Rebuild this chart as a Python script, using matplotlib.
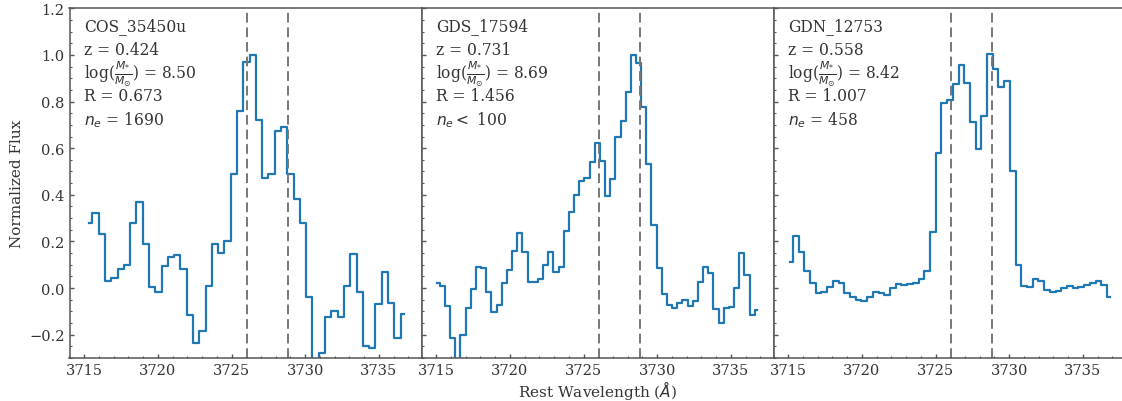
import numpy as np
import matplotlib
matplotlib.use("Agg")
import matplotlib.pyplot as plt
from matplotlib.ticker import MultipleLocator

# [OII] 3726, 3729 doublet, rest frame
OII_LINES = [3726.03, 3728.82]

# galaxy labels and properties
names = ["COS_35450u", "GDS_17594", "GDN_12753"]
redshifts = ["0.424", "0.731", "0.558"]
log_mass = ["8.50", "8.69", "8.42"]
ratios = ["0.673", "1.456", "1.007"]
densities = [r"$n_e$ = 1690", r"$n_e <$ 100", r"$n_e$ = 458"]

# rest-frame wavelength range covered by each spectrum (first pixel, last pixel, npix)
wave_ranges = [(3715.34, 3736.69, 51), (3715.07, 3736.80, 63), (3715.12, 3736.84, 57)]

flux_cos = [0.28, 0.32, 0.23, 0.03, 0.045, 0.08, 0.10, 0.28, 0.37, 0.19,
            0.005, -0.015, 0.095, 0.135, 0.14, 0.08, -0.115, -0.235, -0.185, 0.01,
            0.19, 0.15, 0.20, 0.49, 0.76, 0.97, 1.00, 0.72, 0.47, 0.49,
            0.675, 0.69, 0.49, 0.38, 0.28, -0.04, -0.34, -0.28, -0.125, -0.10,
            -0.125, 0.007, 0.145, -0.017, -0.25, -0.255, -0.07, 0.07, -0.065, -0.215,
            -0.11]
flux_gds = [0.023, 0.007, -0.076, -0.214, -0.36, -0.20, -0.086, -0.004, 0.091, 0.086,
            -0.019, -0.104, -0.073, 0.02, 0.079, 0.157, 0.236, 0.153, 0.026, 0.026,
            0.04, 0.10, 0.156, 0.067, 0.091, 0.243, 0.327, 0.40, 0.46, 0.474,
            0.541, 0.624, 0.546, 0.396, 0.466, 0.646, 0.716, 0.839, 1.00, 0.967,
            0.777, 0.531, 0.27, 0.087, -0.026, -0.073, -0.087, -0.063, -0.05, -0.076,
            -0.054, 0.026, 0.091, 0.063, -0.09, -0.151, -0.086, -0.083, -0.001, 0.149,
            0.056, -0.114, -0.093]
flux_gdn = [0.11, 0.224, 0.153, 0.074, 0.023, -0.023, -0.019, 0.003, 0.031, 0.023,
            -0.021, -0.04, -0.05, -0.056, -0.037, -0.019, -0.023, -0.029, 0.0, 0.017,
            0.014, 0.019, 0.023, 0.039, 0.073, 0.241, 0.581, 0.793, 0.807, 0.874,
            0.956, 0.881, 0.713, 0.597, 0.736, 1.003, 0.939, 0.864, 0.889, 0.50,
            0.10, 0.007, 0.003, 0.039, 0.031, -0.007, -0.019, -0.011, 0.001, 0.007,
            0.001, 0.004, 0.014, 0.023, 0.031, 0.013, -0.04]
fluxes = [flux_cos, flux_gds, flux_gdn]

plt.rcParams["font.family"] = "DejaVu Serif"
plt.rcParams["mathtext.fontset"] = "dejavusans"
plt.rcParams["font.size"] = 10.5
grey = "#555555"
plt.rcParams["axes.edgecolor"] = grey
plt.rcParams["axes.linewidth"] = 1.1
plt.rcParams["xtick.color"] = grey
plt.rcParams["ytick.color"] = grey
plt.rcParams["xtick.labelcolor"] = "#333333"
plt.rcParams["ytick.labelcolor"] = "#333333"
plt.rcParams["text.color"] = "#333333"
plt.rcParams["axes.labelcolor"] = "#333333"

W, H = 1122, 402
fig = plt.figure(figsize=(W / 100, H / 100), dpi=100)

left, width = 69.5, 352.0
bottom, top = 359.0, 9.3
axes = []
for i in range(3):
    ax = fig.add_axes([(left + i * width) / W, (H - bottom) / H,
                       width / W, (bottom - top) / H],
                      sharey=axes[0] if axes else None)
    axes.append(ax)

for i, ax in enumerate(axes):
    lo, hi, n = wave_ranges[i]
    wave = np.linspace(lo, hi, n)
    ax.step(wave, fluxes[i], where="mid", color="#1f77b4", lw=1.6)
    for w in OII_LINES:
        ax.axvline(w, color="#777777", ls="--", lw=1.4, dashes=(5, 2.5))

    ax.set_xlim(3714.0, 3737.9)
    ax.set_ylim(-0.3, 1.2)
    ax.xaxis.set_major_locator(MultipleLocator(5))
    ax.xaxis.set_minor_locator(MultipleLocator(1))
    ax.yaxis.set_major_locator(MultipleLocator(0.2))
    ax.yaxis.set_minor_locator(MultipleLocator(0.05))
    ax.tick_params(which="both", direction="in")
    ax.tick_params(which="major", length=2.9, width=1.0)
    ax.tick_params(which="minor", length=1.7, width=0.8)
    if i > 0:
        ax.tick_params(axis="y", labelleft=False)

    lines = [names[i], "z = " + redshifts[i],
             r"log($\frac{M_{*}}{M_{\odot}}$) = " + log_mass[i],
             "R = " + ratios[i], densities[i]]
    for j, s in enumerate(lines):
        ax.text(0.042, 0.95 - j * 0.0667, s, transform=ax.transAxes,
                ha="left", va="center", fontsize=11.2)

axes[0].set_ylabel("Normalized Flux", fontsize=11)
axes[1].set_xlabel(r"Rest Wavelength ($Å$)", fontsize=11, labelpad=1)

plt.savefig("out.png", dpi=100)
